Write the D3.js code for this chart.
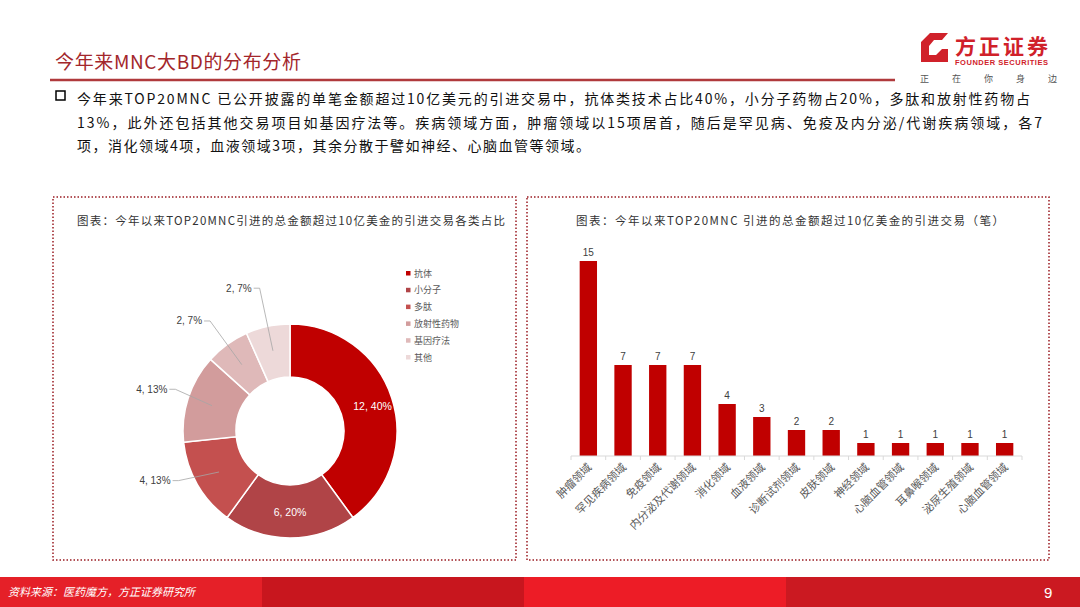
<!DOCTYPE html>
<html>
<head>
    <meta charset="utf-8">
    <title>今年来MNC大BD的分布分析</title>
    <script src="https://d3js.org/d3.v7.min.js"></script>
    <style>
        body { margin: 0; background: #fff; }
        svg { display: block; font-family: "Noto Sans CJK SC", "Liberation Sans", sans-serif; }
    </style>
</head>
<body>
    <svg id="page"></svg>

    <script>
        // pie data
        const pieCategories = ["抗体", "小分子", "多肽", "放射性药物", "基因疗法", "其他"];
        const pieValues = [12, 6, 4, 4, 2, 2];
        const pieLabels = ["12, 40%", "6, 20%", "4, 13%", "4, 13%", "2, 7%", "2, 7%"];
        const pieColors = ["#C00000", "#B04447", "#C4504F", "#D29C9C", "#DFB9B9", "#EDD9D9"];

        // bar data
        const barCategories = ["肿瘤领域", "罕见疾病领域", "免疫领域", "内分泌及代谢领域", "消化领域", "血液领域",
            "诊断试剂领域", "皮肤领域", "神经领域", "心脑血管领域", "耳鼻喉领域", "泌尿生殖领域", "心脑血管领域 "];
        const barValues = [15, 7, 7, 7, 4, 3, 2, 2, 1, 1, 1, 1, 1];

        const bodyLines = [
            "今年来TOP20MNC 已公开披露的单笔金额超过10亿美元的引进交易中，抗体类技术占比40%，小分子药物占20%，多肽和放射性药物占",
            "13%，此外还包括其他交易项目如基因疗法等。疾病领域方面，肿瘤领域以15项居首，随后是罕见病、免疫及内分泌/代谢疾病领域，各7",
            "项，消化领域4项，血液领域3项，其余分散于譬如神经、心脑血管等领域。"
        ];
        const bodyWidths = [953, 965, 513];

        const W = 1080, H = 607;
        const svg = d3.select("#page").attr("width", W).attr("height", H);

        // ---- header ----
        svg.append("text")
            .attr("x", 55).attr("y", 69)
            .attr("font-size", 19).attr("fill", "#A3262B")
            .attr("textLength", 246)
            .text("今年来MNC大BD的分布分析");
        svg.append("line")
            .attr("x1", 50).attr("x2", 895).attr("y1", 80).attr("y2", 80)
            .attr("stroke", "#B03A3C").attr("stroke-width", 2.5);

        // logo
        const logo = svg.append("g");
        logo.append("path")
            .attr("d", "M930,33 L948,33 L942,40 L934,40 L929,46 L929,55 L936,55 L942,49 L948,49 L948,62 L921,62 L921,42 Z")
            .attr("fill", "#D0212A");
        logo.append("text").attr("x", 955).attr("y", 54)
            .attr("font-size", 21).attr("font-weight", "bold").attr("fill", "#D0212A")
            .attr("textLength", 93).text("方正证券");
        logo.append("text").attr("x", 955).attr("y", 65)
            .attr("font-size", 7.5).attr("font-weight", "bold").attr("fill", "#D0212A")
            .attr("font-family", "Liberation Sans").attr("textLength", 93).text("FOUNDER SECURITIES");
        ["正", "在", "你", "身", "边"].forEach((c, i) => {
            logo.append("text").attr("x", 920 + i * 32).attr("y", 82)
                .attr("font-size", 9).attr("fill", "#555").text(c);
        });

        // body text
        svg.append("rect").attr("x", 56).attr("y", 91).attr("width", 9).attr("height", 9)
            .attr("fill", "none").attr("stroke", "#000").attr("stroke-width", 1.5);
        bodyLines.forEach((t, i) => {
            svg.append("text")
                .attr("x", 77).attr("y", 104 + i * 23.5)
                .attr("font-size", 14).attr("fill", "#111")
                .attr("textLength", bodyWidths[i])
                .attr("lengthAdjust", "spacing")
                .text(t);
        });

        // panels
        [[53, 197, 463, 363], [527, 197, 522, 363]].forEach(([x, y, w, h]) => {
            svg.append("rect")
                .attr("x", x).attr("y", y).attr("width", w).attr("height", h)
                .attr("fill", "none").attr("stroke", "#9B1B22")
                .attr("stroke-width", 1.5).attr("stroke-dasharray", "1.5,2");
        });

        svg.append("text").attr("x", 77).attr("y", 225)
            .attr("font-size", 11.5).attr("fill", "#333")
            .attr("textLength", 428).attr("lengthAdjust", "spacing")
            .text("图表：今年以来TOP20MNC引进的总金额超过10亿美金的引进交易各类占比");
        svg.append("text").attr("x", 576).attr("y", 225)
            .attr("font-size", 11.5).attr("fill", "#333")
            .attr("textLength", 428).attr("lengthAdjust", "spacing")
            .text("图表：今年以来TOP20MNC 引进的总金额超过10亿美金的引进交易（笔）");

        // ---- donut ----
        const cx = 290, cy = 431, rOuter = 107, rInner = 54;
        const pieG = svg.append("g").attr("transform", `translate(${cx},${cy})`);
        const pie = d3.pie().sort(null).value(d => d)(pieValues);
        const arc = d3.arc().innerRadius(rInner).outerRadius(rOuter);

        pieG.selectAll("path.slice")
            .data(pie)
            .enter()
            .append("path")
            .attr("class", "slice")
            .attr("d", arc)
            .attr("fill", (d, i) => pieColors[i])
            .attr("stroke", "#fff")
            .attr("stroke-width", 1.5);

        const polar = (a, r) => [r * Math.sin(a), -r * Math.cos(a)];
        const labelR = [0, 0, 122, 122, 136, 146];
        const labelShift = [0, 0, 6, 2, 0, 0]; // degrees
        pie.forEach((d, i) => {
            const mid = (d.startAngle + d.endAngle) / 2;
            if (i < 2) {
                const [x, y] = arc.centroid(d);
                pieG.append("text")
                    .attr("x", x + (i === 0 ? 6 : 0)).attr("y", y + 4)
                    .attr("text-anchor", "middle")
                    .attr("font-size", 10.5).attr("fill", "#fff")
                    .attr("font-family", "Liberation Sans")
                    .text(pieLabels[i]);
            } else {
                const [x0, y0] = polar(mid, 82);
                const [x1, y1] = polar(mid + labelShift[i] * Math.PI / 180, labelR[i]);
                pieG.append("polyline")
                    .attr("points", `${x0},${y0} ${x1},${y1} ${x1 - 6},${y1}`)
                    .attr("fill", "none").attr("stroke", "#A6A6A6").attr("stroke-width", 0.8);
                pieG.append("text")
                    .attr("x", x1 - 8).attr("y", y1 + 3.5)
                    .attr("text-anchor", "end")
                    .attr("font-size", 10).attr("fill", "#404040")
                    .attr("font-family", "Liberation Sans")
                    .text(pieLabels[i]);
            }
        });

        // legend
        const legend = svg.append("g").attr("transform", "translate(406,275)");
        pieCategories.forEach((c, i) => {
            const g = legend.append("g").attr("transform", `translate(0,${i * 16.8})`);
            g.append("rect").attr("x", 0).attr("y", -4).attr("width", 4.5).attr("height", 4.5)
                .attr("fill", pieColors[i]);
            g.append("text").attr("x", 8).attr("y", 1.5)
                .attr("font-size", 9).attr("fill", "#595959").text(c);
        });

        // ---- bar chart ----
        const x = d3.scaleBand()
            .domain(barCategories)
            .range([571, 1022])
            .paddingInner(0.5)
            .paddingOuter(0.25);

        const y = d3.scaleLinear()
            .domain([0, 15])
            .range([456, 261]);

        const barG = svg.append("g");
        barG.selectAll("rect")
            .data(barValues)
            .enter()
            .append("rect")
            .attr("x", (d, i) => x(barCategories[i]))
            .attr("y", d => y(d))
            .attr("width", x.bandwidth())
            .attr("height", d => y(0) - y(d))
            .attr("fill", "#C00000");

        barG.selectAll("text.val")
            .data(barValues)
            .enter()
            .append("text")
            .attr("class", "val")
            .attr("x", (d, i) => x(barCategories[i]) + x.bandwidth() / 2)
            .attr("y", d => y(d) - 5)
            .attr("text-anchor", "middle")
            .attr("font-size", 10).attr("fill", "#404040")
            .attr("font-family", "Liberation Sans")
            .text(d => d);

        // axis baseline with ticks between categories
        const axisG = svg.append("g").attr("transform", `translate(0,${y(0)})`);
        axisG.append("line")
            .attr("x1", 571).attr("x2", 1022)
            .attr("stroke", "#D9D9D9").attr("stroke-width", 1);
        const step = x.step();
        d3.range(barCategories.length + 1).forEach(k => {
            const tx = 571 + k * step;
            axisG.append("line")
                .attr("x1", tx).attr("x2", tx).attr("y1", 0).attr("y2", 4)
                .attr("stroke", "#D9D9D9");
        });

        barCategories.forEach((c, i) => {
            const cxp = x(c) + x.bandwidth() / 2;
            svg.append("text")
                .attr("transform", `translate(${cxp + 4},${y(0) + 12}) rotate(-45)`)
                .attr("text-anchor", "end")
                .attr("font-size", 11).attr("fill", "#595959")
                .text(c.trim());
        });

        // ---- footer ----
        const footer = svg.append("g");
        [[0, 262, "#E52028"], [262, 262, "#C8161E"], [524, 262, "#ED1C26"], [786, 294, "#CB1921"]]
            .forEach(([fx, fw, col]) => {
                footer.append("rect").attr("x", fx).attr("y", 577).attr("width", fw).attr("height", 30)
                    .attr("fill", col);
            });
        footer.append("text").attr("x", 8).attr("y", 596)
            .attr("font-size", 11).attr("font-style", "italic").attr("fill", "#fff")
            .text("资料来源：医药魔方，方正证券研究所");
        footer.append("text").attr("x", 1044).attr("y", 598)
            .attr("font-size", 15).attr("fill", "#fff")
            .attr("font-family", "Liberation Sans")
            .text("9");
    </script>
</body>
</html>
